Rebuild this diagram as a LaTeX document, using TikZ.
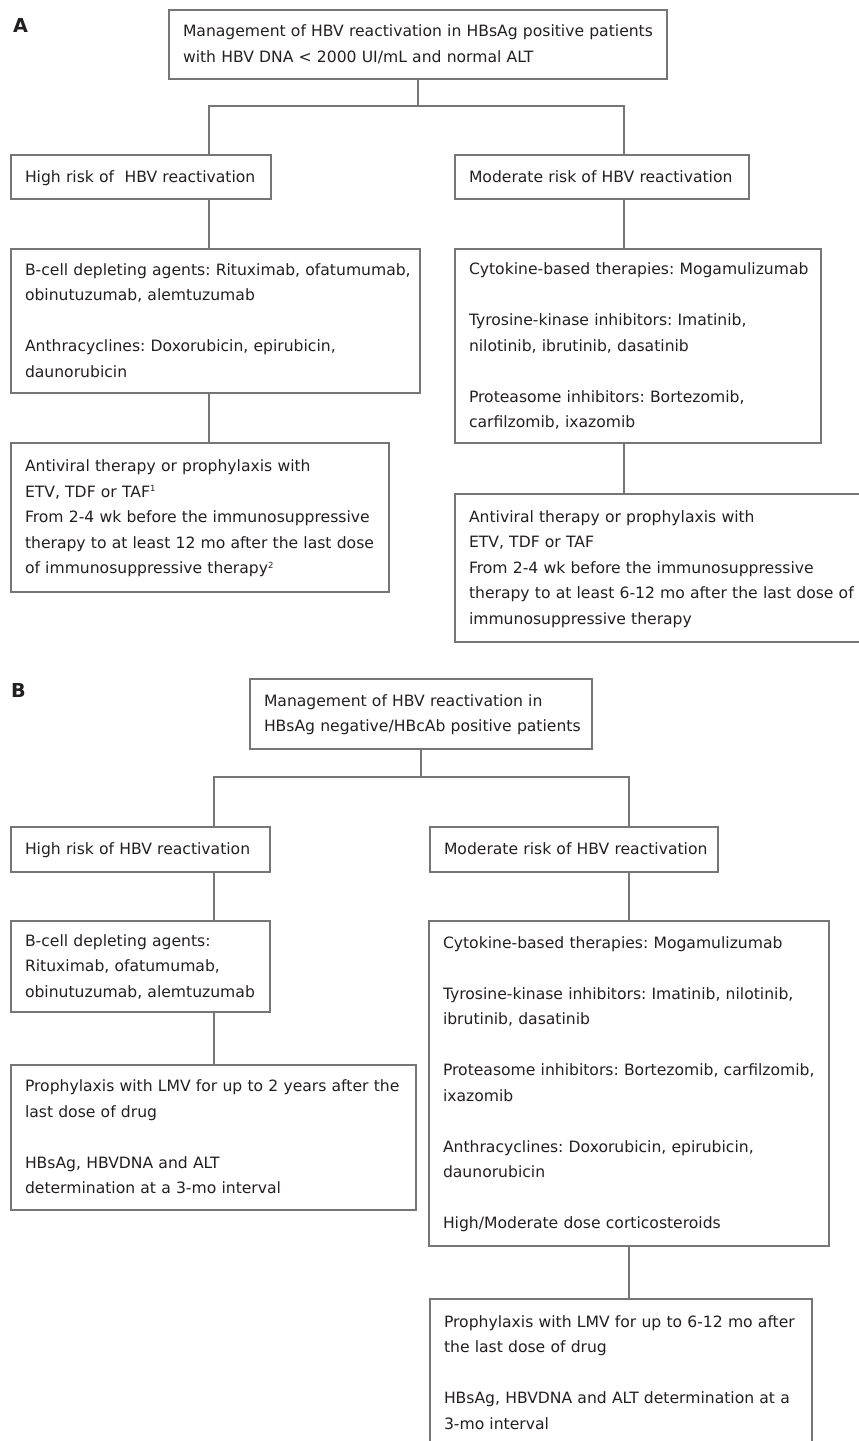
\documentclass[tikz,border=0pt]{standalone}
\usepackage{fontspec}
\setmainfont{DejaVu Sans}
\definecolor{linegray}{RGB}{118,118,118}
\definecolor{inkdark}{RGB}{35,31,32}
\newcommand{\boxlines}[1]{\begin{tabular}{@{}l@{}}#1\end{tabular}}
\newcommand{\fnmark}[1]{\raisebox{5.5pt}{\fontsize{8.5}{9}\selectfont #1}}
\frenchspacing

\begin{document}
\begin{tikzpicture}[x=1pt, y=-1pt,
    box/.style={draw=linegray, line width=1.2pt, anchor=north west, align=left,
        inner xsep=14pt, inner ysep=0pt, outer sep=0pt, text=inkdark,
        font=\fontsize{15.6}{25.5}\selectfont},
    link/.style={draw=linegray, line width=1.2pt},
    panel/.style={anchor=north west, inner sep=0pt, text=inkdark,
        font=\fontsize{19.2}{20}\selectfont\bfseries}]
    \useasboundingbox (0,0) rectangle (859,1441);
    \clip (0,0) rectangle (859,1441);

    % panel A
    \node[panel] (labA) at (13,18) {A};
    \node[box, text width=470pt, minimum height=69pt] (topA) at (169,10)
        {\boxlines{Management of HBV reactivation in HBsAg positive patients\\
        with HBV DNA < 2000 UI/mL and normal ALT}};
    \node[box, text width=232pt, minimum height=44pt] (highA) at (11,155)
        {\boxlines{High risk of~ HBV reactivation}};
    \node[box, text width=266pt, minimum height=44pt] (modA) at (455,155)
        {\boxlines{Moderate risk of HBV reactivation}};
    \node[box, text width=381pt, minimum height=144pt] (bcellA) at (11,249)
        {\boxlines{B-cell depleting agents: Rituximab, ofatumumab,\\
        obinutuzumab, alemtuzumab\\ \\
        Anthracyclines: Doxorubicin, epirubicin,\\
        daunorubicin}};
    \node[box, text width=338pt, minimum height=194pt] (cytoA) at (455,249)
        {\boxlines{Cytokine-based therapies: Mogamulizumab\\ \\
        Tyrosine-kinase inhibitors: Imatinib,\\
        nilotinib, ibrutinib, dasatinib\\ \\
        Proteasome inhibitors: Bortezomib,\\
        carfilzomib, ixazomib}};
    \node[box, text width=350pt, minimum height=149pt] (antiA1) at (11,443)
        {\boxlines{Antiviral therapy or prophylaxis with\\
        ETV, TDF or TAF\fnmark{1}\\
        From 2-4 wk before the immunosuppressive\\
        therapy to at least 12 mo after the last dose\\
        of immunosuppressive therapy\fnmark{2}}};
    \node[box, text width=392pt, minimum height=148pt] (antiA2) at (455,494)
        {\boxlines{Antiviral therapy or prophylaxis with\\
        ETV, TDF or TAF\\
        From 2-4 wk before the immunosuppressive\\
        therapy to at least 6-12 mo after the last dose of\\
        immunosuppressive therapy}};

    \coordinate (leftA) at (209,106);
    \coordinate (rightA) at (624,106);
    \draw[link] (topA.south) -- (topA.south |- leftA);
    \draw[link] (leftA |- highA.north) -- (leftA) -- (rightA) -- (rightA |- modA.north);
    \draw[link] (leftA |- highA.south) -- (leftA |- bcellA.north);
    \draw[link] (leftA |- bcellA.south) -- (leftA |- antiA1.north);
    \draw[link] (rightA |- modA.south) -- (rightA |- cytoA.north);
    \draw[link] (rightA |- cytoA.south) -- (rightA |- antiA2.north);

    % panel B
    \node[panel] (labB) at (11,683) {B};
    \node[box, text width=314pt, minimum height=70pt] (topB) at (250,679)
        {\boxlines{Management of HBV reactivation in\\
        HBsAg negative/HBcAb positive patients}};
    \node[box, text width=231pt, minimum height=45pt] (highB) at (11,827)
        {\boxlines{High risk of HBV reactivation}};
    \node[box, text width=260pt, minimum height=45pt] (modB) at (430,827)
        {\boxlines{Moderate risk of HBV reactivation}};
    \node[box, text width=231pt, minimum height=91pt] (bcellB) at (11,921)
        {\boxlines{B-cell depleting agents:\\
        Rituximab, ofatumumab,\\
        obinutuzumab, alemtuzumab}};
    \node[box, text width=377pt, minimum height=145pt] (proLB) at (11,1065)
        {\boxlines{Prophylaxis with LMV for up to 2 years after the\\
        last dose of drug\\ \\
        HBsAg, HBVDNA and ALT\\
        determination at a 3-mo interval}};
    \node[box, text width=372pt, minimum height=325pt] (cytoB) at (429,921)
        {\boxlines{Cytokine-based therapies: Mogamulizumab\\ \\
        Tyrosine-kinase inhibitors: Imatinib, nilotinib,\\
        ibrutinib, dasatinib\\ \\
        Proteasome inhibitors: Bortezomib, carfilzomib,\\
        ixazomib\\ \\
        Anthracyclines: Doxorubicin, epirubicin,\\
        daunorubicin\\ \\
        High/Moderate dose corticosteroids}};
    \node[box, text width=354pt, minimum height=148pt] (proRB) at (430,1299)
        {\boxlines{Prophylaxis with LMV for up to 6-12 mo after\\
        the last dose of drug\\ \\
        HBsAg, HBVDNA and ALT determination at a\\
        3-mo interval}};

    \coordinate (leftB) at (214,777);
    \coordinate (rightB) at (629,777);
    \draw[link] (topB.south) -- (topB.south |- leftB);
    \draw[link] (leftB |- highB.north) -- (leftB) -- (rightB) -- (rightB |- modB.north);
    \draw[link] (leftB |- highB.south) -- (leftB |- bcellB.north);
    \draw[link] (leftB |- bcellB.south) -- (leftB |- proLB.north);
    \draw[link] (rightB |- modB.south) -- (rightB |- cytoB.north);
    \draw[link] (rightB |- cytoB.south) -- (rightB |- proRB.north);
\end{tikzpicture}
\end{document}
